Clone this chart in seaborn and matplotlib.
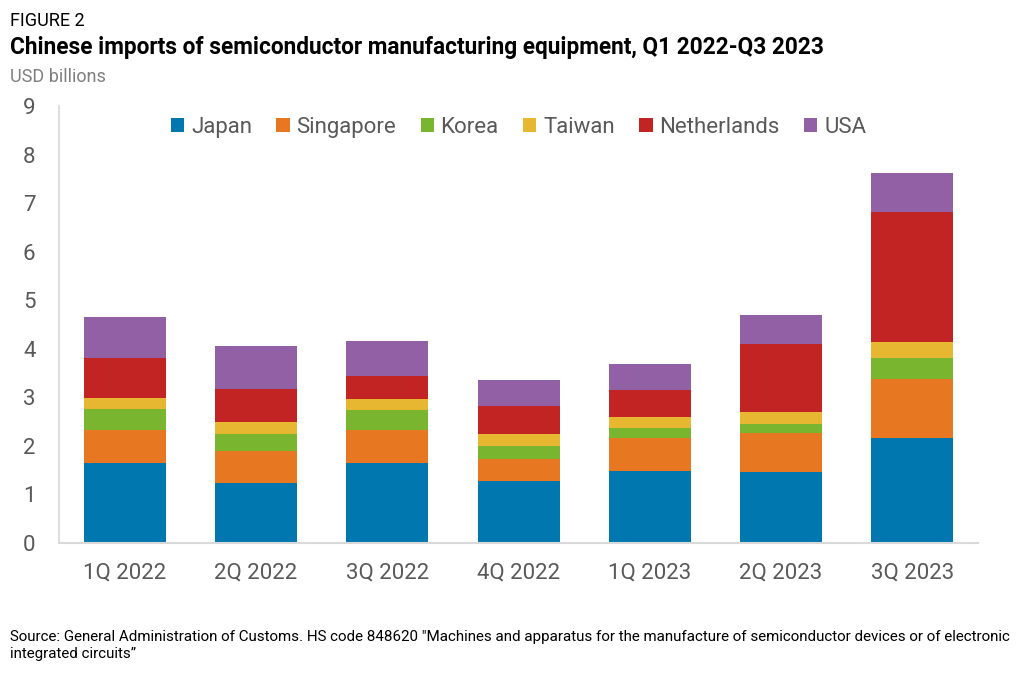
import matplotlib
matplotlib.use('Agg')
import matplotlib.pyplot as plt
import seaborn as sns
import pandas as pd
import numpy as np

# данные
quarters = ['1Q 2022', '2Q 2022', '3Q 2022', '4Q 2022', '1Q 2023', '2Q 2023', '3Q 2023']
japan = [1.65, 1.24, 1.65, 1.28, 1.48, 1.46, 2.16]
singapore = [0.68, 0.66, 0.68, 0.44, 0.69, 0.80, 1.22]
korea = [0.43, 0.34, 0.41, 0.28, 0.20, 0.19, 0.43]
taiwan = [0.22, 0.25, 0.22, 0.25, 0.22, 0.25, 0.33]
netherlands = [0.83, 0.68, 0.48, 0.57, 0.56, 1.39, 2.67]
usa = [0.84, 0.88, 0.71, 0.53, 0.54, 0.60, 0.80]

countries = ['Japan', 'Singapore', 'Korea', 'Taiwan', 'Netherlands', 'USA']
colors = ['#0077AE', '#E87722', '#7AB52F', '#E7B731', '#C22424', '#9260A5']

df = pd.DataFrame({'quarter': quarters, 'Japan': japan, 'Singapore': singapore,
                   'Korea': korea, 'Taiwan': taiwan, 'Netherlands': netherlands, 'USA': usa})

sns.set_theme(style='white')
plt.rcParams['font.family'] = ['Roboto', 'DejaVu Sans']

fig = plt.figure(figsize=(10.32, 6.73), dpi=100)
ax = fig.add_axes([0.0572, 0.1932, 0.8905, 0.6493])

bottom = np.zeros(len(quarters))
for country, color in zip(countries, colors):
    sns.barplot(data=df, x='quarter', y=country, color=color, bottom=bottom,
                width=0.625, ax=ax, label=country, saturation=1, linewidth=0)
    bottom = bottom + df[country].values

ax.set_ylim(0, 9)
ax.set_xlim(-0.5, 6.5)
ax.set_yticks(range(10))
ax.set_xlabel('')
ax.set_ylabel('')
ax.tick_params(axis='y', labelsize=16, colors='#595959', pad=17, length=0)
ax.tick_params(axis='x', labelsize=16, colors='#595959', pad=14, length=0)
for s in ['top', 'right']:
    ax.spines[s].set_visible(False)
ax.spines['left'].set_color('#d9d9d9')
ax.spines['bottom'].set_color('#d9d9d9')
ax.spines['bottom'].set_linewidth(1.5)

leg = ax.legend(loc='upper center', bbox_to_anchor=(0.5, 1.02), ncol=6, frameon=False,
                fontsize=16, handlelength=0.6, handleheight=0.6, handletextpad=0.3,
                columnspacing=1.1)
for t in leg.get_texts():
    t.set_color('#595959')

fig.text(0.0097, 0.962, 'FIGURE 2', fontsize=13, color='black', va='baseline')
fig.text(0.0097, 0.920, 'Chinese imports of semiconductor manufacturing equipment, Q1 2022-Q3 2023',
         fontsize=16.3, fontweight='bold', color='black', va='baseline')
fig.text(0.0097, 0.878, 'USD billions', fontsize=13, color='#7f7f7f', va='baseline')
fig.text(0.0097, 0.0223, 'Source: General Administration of Customs. HS code 848620 "Machines and apparatus for the manufacture of semiconductor devices or of electronic\nintegrated circuits\u201d',
         fontsize=10.9, color='black', va='baseline', linespacing=1.25)

plt.savefig('out.png', dpi=100)
